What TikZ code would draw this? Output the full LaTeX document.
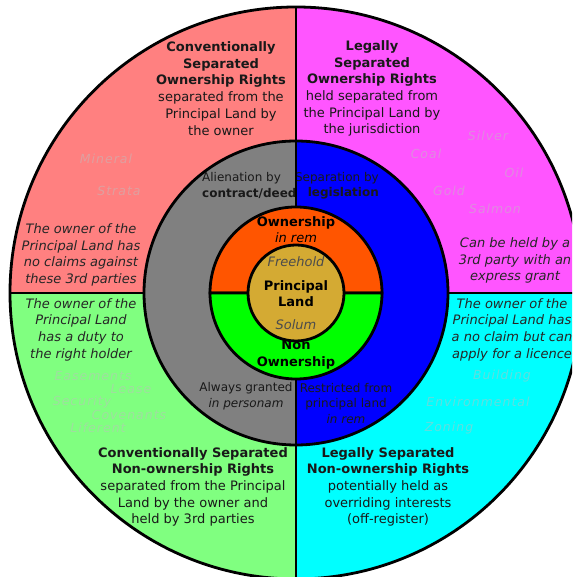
\documentclass[tikz,border=0pt]{standalone}
\usepackage{fontspec}
\setmainfont{DejaVu Sans}
\newfontfamily\faintfont[LetterSpace=8]{DejaVu Sans}
\usepackage{tikz}
\usetikzlibrary{positioning}
\definecolor{convown}{HTML}{FF8080}
\definecolor{legalown}{HTML}{FF55FF}
\definecolor{convnon}{HTML}{80FF80}
\definecolor{legalnon}{HTML}{00FFFF}
\definecolor{contract}{HTML}{808080}
\definecolor{statute}{HTML}{0000FF}
\definecolor{inrem}{HTML}{FF5500}
\definecolor{personam}{HTML}{00FF00}
\definecolor{solum}{HTML}{D4AA33}
\tikzset{x=1pt,y=1pt,every node/.style={align=center,inner sep=0pt},
  rim/.style={line width=2.8pt},
  quadtext/.style={font=\fontsize{13}{16.7}\selectfont,text=black!90},
  duty/.style={font=\fontsize{13}{16.7}\selectfont\itshape,text=black!85},
  ringtext/.style={font=\fontsize{12}{15.5}\selectfont,text=black!90},
  coretext/.style={font=\fontsize{13}{15.5}\selectfont},
  faint/.style={font=\faintfont\fontsize{12.5}{15}\selectfont\itshape,text=gray!50,opacity=0.5}}

\begin{document}
\begin{tikzpicture}
    \useasboundingbox (-296,-284) rectangle (276,293);
    \clip (-296,-284) rectangle (276,293);
    \fill[convown] (0,0) -- (0,286) arc[start angle=90,end angle=180,radius=286] -- cycle;
    \fill[legalown] (0,0) -- (286,0) arc[start angle=0,end angle=90,radius=286] -- cycle;
    \fill[convnon] (0,0) -- (-286,0) arc[start angle=180,end angle=270,radius=286] -- cycle;
    \fill[legalnon] (0,0) -- (0,-286) arc[start angle=270,end angle=360,radius=286] -- cycle;

    \node[faint] (mineral) at (-190,134) {Mineral};
    \node[faint] (strata) at (-177,102) {Strata};
    \node[faint] (silver) at (192,157) {Silver};
    \node[faint] (coal) at (130,139) {Coal};
    \node[faint] (oil) at (218,120) {Oil};
    \node[faint] (gold) at (153,102) {Gold};
    \node[faint] (salmon) at (199,84) {Salmon};
    \node[faint] (easements) at (-203,-83) {Easements};
    \node[faint] (lease) at (-165,-96) {Lease};
    \node[faint] (security) at (-214,-109) {Security};
    \node[faint] (covenants) at (-167,-122) {Covenants};
    \node[faint] (liferent) at (-198,-135) {Liferent};
    \node[faint] (building) at (206,-83) {Building};
    \node[faint] (environmental) at (182,-109) {Environmental};
    \node[faint] (zoning) at (153,-135) {Zoning};

    \node[quadtext] (ownconv) at (-75,204.5) {\textbf{Conventionally}\\\textbf{Separated}\\\textbf{Ownership Rights}\\separated from the\\Principal Land by\\the owner};
    \node[quadtext] (ownlegal) at (76,204.5) {\textbf{Legally}\\\textbf{Separated}\\\textbf{Ownership Rights}\\held separated from\\the Principal Land by\\the jurisdiction};
    \node[quadtext] (nonconv) at (-103,-194) {\textbf{Conventionally Separated}\\\textbf{Non-ownership Rights}\\separated from the Principal\\Land by the owner and\\held by 3rd parties};
    \node[quadtext] (nonlegal) at (92,-194) {\textbf{Legally Separated}\\\textbf{Non-ownership Rights}\\potentially held as\\overriding interests\\(off-register)};

    \node[duty] (noclaim) at (-215,38) {The owner of the\\Principal Land has\\no claims against\\these 3rd parties};
    \node[duty] (grant) at (219,32.5) {Can be held by a\\3rd party with an\\express grant};
    \node[duty] (dutyto) at (-215,-36.5) {The owner of the\\Principal Land\\has a duty to\\the right holder};
    \node[duty] (licence) at (216,-36.5) {The owner of the\\Principal Land has\\a no claim but can\\apply for a licence};

    \fill[contract] (0,152) arc[start angle=90,end angle=270,radius=152] -- cycle;
    \fill[statute] (0,-152) arc[start angle=-90,end angle=90,radius=152] -- cycle;
    \begin{scope}
        \clip (-152,-152) rectangle (0,152);
        \node[ringtext,anchor=west,align=left] (deed) at (-94,107.5) {Alienation by\\\textbf{contract/deed}};
        \node[ringtext] (personam) at (-50,-103) {Always granted\\\textit{in personam}};
    \end{scope}
    \begin{scope}
        \clip (0,-152) rectangle (152,152);
        \node[ringtext,anchor=east,align=right] (legislation) at (83,107.5) {Separation by\\\textbf{legislation}};
        \node[ringtext] (restricted) at (50,-110.5) {Restricted from\\principal land\\\textit{in rem}};
    \end{scope}

    \draw[rim] (0,0) circle[radius=286];
    \draw[rim] (0,0) circle[radius=152];
    \draw[rim] (-286,0) -- (-152,0);
    \draw[rim] (152,0) -- (286,0);
    \draw[rim] (0,286) -- (0,86);
    \draw[rim] (0,-86) -- (0,-286);

    \filldraw[rim,fill=inrem] (86,0) arc[start angle=0,end angle=180,radius=86] -- cycle;
    \filldraw[rim,fill=personam] (-86,0) arc[start angle=180,end angle=360,radius=86] -- cycle;
    \filldraw[rim,fill=solum] (0,0) circle[radius=48];

    \node[coretext] (ownership) at (0,63.5) {\textbf{Ownership}\\\textit{in rem}};
    \node[coretext] (land) at (0,-0.5) {\textbf{Principal}\\\textbf{Land}};
    \node[coretext,text=black!70,above=14pt of land] (freehold) {\textit{Freehold}};
    \node[coretext,text=black!70,below=13pt of land] (solumtext) {\textit{Solum}};
    \node[coretext,font=\fontsize{13}{17}\selectfont] (nonown) at (0,-61.5) {\textbf{Non}\\\textbf{Ownership}};
\end{tikzpicture}
\end{document}
